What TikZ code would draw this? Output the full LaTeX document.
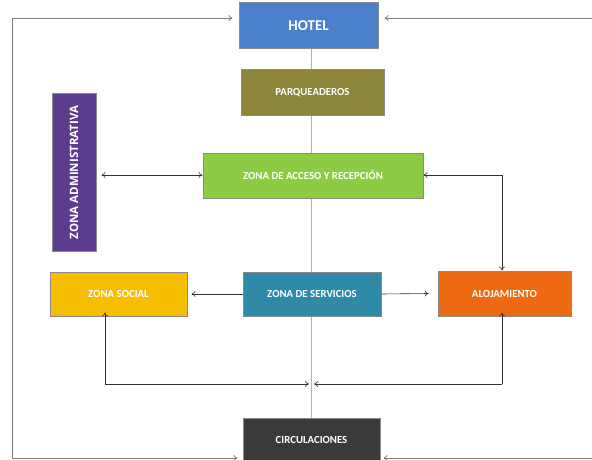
\documentclass[tikz,border=0pt]{standalone}
\usepackage{fontspec}
\setmainfont{Carlito}
\newfontfamily\adminfont{Open Sans}
\usetikzlibrary{arrows.meta,backgrounds}
\definecolor{cHotel}{HTML}{4A80CC}
\definecolor{cParq}{HTML}{8C853A}
\definecolor{cAcc}{HTML}{8DCB45}
\definecolor{cAdm}{HTML}{5C3C8C}
\definecolor{cSoc}{HTML}{F5BE00}
\definecolor{cSer}{HTML}{2E8AA6}
\definecolor{cAlo}{HTML}{EE6A12}
\definecolor{cCir}{HTML}{3A3A3A}
\definecolor{cEdge}{HTML}{8A8A8A}
\tikzset{
  zbox/.style={draw=cEdge, line width=1pt, inner sep=0pt, text=white,
    font=\bfseries\fontsize{10.8}{12}\selectfont},
  tip/.style={To[length=4pt,width=6pt]},
  conn/.style={draw=black!80, line width=0.6pt, arrows={-To[length=4pt,width=6pt]}},
  conn2/.style={draw=black!80, line width=0.6pt, arrows={To[length=4pt,width=6pt]-To[length=4pt,width=6pt]}},
  loopline/.style={draw=black!50, line width=0.8pt, arrows={-To[length=4pt,width=6pt]}},
  spine/.style={draw=black!30, line width=1.2pt}
}
\begin{document}
\begin{tikzpicture}[x=1pt,y=-1pt]
\useasboundingbox (0,0) rectangle (592,460);
% boxes
\node[zbox, fill=cHotel, minimum width=139pt, minimum height=46pt,
  font=\bfseries\fontsize{15}{17}\selectfont] (hotel) at (308.5,26) {HOTEL};
\node[zbox, fill=cParq, minimum width=143pt, minimum height=45pt] (parq) at (312.5,92.5) {PARQUEADEROS};
\node[zbox, fill=cAcc, minimum width=220pt, minimum height=45pt] (acc) at (313,175.5) {ZONA DE ACCESO Y RECEPCIÓN};
\node[zbox, fill=cAdm, minimum width=157pt, minimum height=44pt, rotate=90,
  font=\adminfont\bfseries\fontsize{11.5}{13}\selectfont] (adm) at (74,172.5) {ZONA ADMINISTRATIVA};
\node[zbox, fill=cSoc, minimum width=137pt, minimum height=44pt] (soc) at (118.5,294) {ZONA SOCIAL};
\node[zbox, fill=cSer, minimum width=138pt, minimum height=44pt] (ser) at (312,294) {ZONA DE SERVICIOS};
\node[zbox, fill=cAlo, minimum width=133pt, minimum height=45pt] (alo) at (504.5,293.5) {ALOJAMIENTO};
\node[zbox, fill=cCir, minimum width=137pt, minimum height=44pt] (cir) at (311.5,440) {CIRCULACIONES};
% coordinates
\coordinate (lt) at (12,18);
\coordinate (lb) at (12,458);
\coordinate (rt) at (592,18);
\coordinate (rb) at (592,458);
\coordinate (ac) at (502,175);
\coordinate (sj) at (105,384);
\coordinate (aj) at (502,384);
\coordinate (mj) at (311.5,384);
% spine
\begin{scope}[on background layer]
\fill[white] (0,0) rectangle (592,460);
\draw[spine] (cir.north |- hotel.south) -- (cir.north);
\end{scope}
% outer loops
\draw[loopline] (lb) -- (lt) -- ([xshift=-6pt]hotel.west |- lt);
\draw[loopline] (lb) -- ([xshift=-5pt]cir.west |- lb);
\draw[loopline] (rt) -- ([xshift=6pt]hotel.east |- rt);
\draw[loopline] (rb) -- ([xshift=3pt]cir.east |- rb);
% inner connectors
\draw[conn2] ([xshift=5pt]adm.south |- ac) -- (acc.west |- ac);
\draw[conn2] (acc.east |- ac) -- (ac) -- (alo.north -| ac);
\draw[conn] (ser.west) -- ([xshift=4pt]soc.east);
\draw[conn] (ser.east) -- ([xshift=-9pt]alo.west);
\draw[conn] (mj -| aj) -- ([yshift=4pt]alo.south -| aj);
\draw[conn] (aj) -- ([xshift=2.5pt]mj);
\draw[conn] (sj) -- ([yshift=4pt]soc.south -| sj);
\draw[conn] (sj) -- ([xshift=-2.5pt]mj);
\end{tikzpicture}
\end{document}
